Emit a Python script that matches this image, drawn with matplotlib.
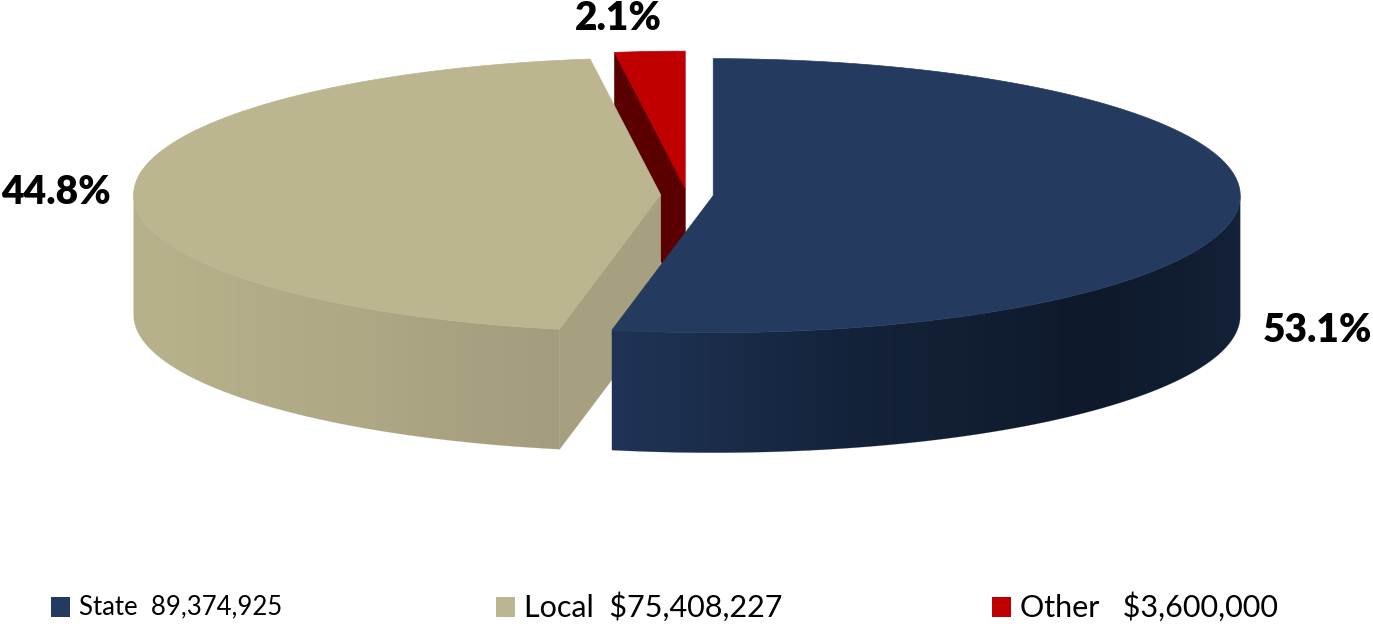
import numpy as np
import matplotlib
matplotlib.use("Agg")
import matplotlib.pyplot as plt
from matplotlib.patches import Polygon, Rectangle

# funding sources
categories = ["State", "Local", "Other"]
amounts = [89374925, 75408227, 3600000]
legend_text = ["State  89,374,925", "Local  $75,408,227", "Other   $3,600,000"]

top_colors = ["#243B5F", "#BBB68F", "#C00000"]
wall_dark = ["#0E192B", "#A39C7E", "#5A0000"]
wall_light = ["#1F3456", "#B7B28B", "#6A0000"]
cut_colors = ["#1A2C48", "#A7A080", "#5A0000"]

W, H = 1373, 624
cx, cy = 687, 195      # pie centre in pixels
rx, ry = 527, 137      # ellipse radii of the top face
depth = 120
explode = 0.05

fig = plt.figure(figsize=(W / 100, H / 100), dpi=100)
ax = fig.add_axes([0, 0, 1, 1])
ax.set_xlim(0, W)
ax.set_ylim(H, 0)
ax.axis("off")


def pt(c, th, z=0.0):
    t = np.radians(th)
    return (c[0] + rx * np.sin(t), c[1] - ry * np.cos(t) + z)


def mix(c1, c2, f):
    a = np.array(matplotlib.colors.to_rgb(c1))
    b = np.array(matplotlib.colors.to_rgb(c2))
    return a + (b - a) * np.asarray(f)[..., None]


total = sum(amounts)
fracs = [v / total for v in amounts]
starts = np.concatenate([[0], np.cumsum(fracs)[:-1]]) * 360
ends = np.cumsum(fracs) * 360

centres = []
for s, e in zip(starts, ends):
    m = np.radians((s + e) / 2)
    centres.append((cx + rx * explode * np.sin(m), cy - ry * explode * np.cos(m)))

# shading along the outer wall, keyed by angle
shade = {
    0: ([90, 135, 165, 191], [0.4, 0.0, 0.35, 1.0]),
    1: ([191, 215, 245, 270], [0.0, 0.55, 0.95, 1.0]),
}

# back slice first so the front ones cover it
for i in [2, 1, 0]:
    c = centres[i]
    s, e = starts[i], ends[i]

    # outer wall, only the front half can be seen
    ws, we = max(s, 90), min(e, 270)
    if we > ws:
        th = np.linspace(ws, we, 300)
        outline = [pt(c, a) for a in th] + [pt(c, a, depth) for a in th[::-1]]
        wall = Polygon(outline, closed=True, facecolor="none", edgecolor="none")
        ax.add_patch(wall)
        xs = np.array([pt(c, a)[0] for a in th])
        order = np.argsort(xs)
        f = np.interp(th, *shade[i])
        cols_x = np.arange(int(xs.min()) - 1, int(xs.max()) + 2)
        fx = np.interp(cols_x, xs[order], f[order])
        img = mix(wall_dark[i], wall_light[i], fx)[None, :, :]
        ys = [p[1] for p in outline]
        im = ax.imshow(img, extent=(cols_x[0], cols_x[-1] + 1, max(ys) + 1, min(ys) - 1),
                       aspect="auto", interpolation="bilinear", zorder=1)
        im.set_clip_path(wall)
        ax.add_patch(Polygon(outline, closed=True, facecolor="none",
                             edgecolor=wall_dark[i], lw=0.4, alpha=0.3, zorder=1))

    # cut faces that face the viewer
    for ang, side in [(s, -1), (e, 1)]:
        tn = np.radians(ang)
        ny = side * -np.sin(tn)
        if ny < -1e-6:
            p = pt(c, ang)
            face = [c, p, (p[0], p[1] + depth), (c[0], c[1] + depth)]
            ax.add_patch(Polygon(face, closed=True, facecolor=cut_colors[i],
                                 edgecolor=cut_colors[i], lw=0.5, zorder=1))

    # top face
    th = np.linspace(s, e, 200)
    top = [c] + [pt(c, a) for a in th]
    ax.add_patch(Polygon(top, closed=True, facecolor=top_colors[i],
                         edgecolor=top_colors[i], lw=0.5, zorder=1))

# percentage labels
label_pos = [(1318, 330), (56, 192), (618, 19)]
for (x, y), f in zip(label_pos, fracs):
    ax.text(x, y, f"{f * 100:.1f}%", ha="center", va="center", fontsize=28,
            fontweight="heavy", family="Lato", color="black", zorder=3)

# legend row
leg_x = [51, 496, 992]
leg_size = [18.5, 22, 22]
for x, txt, col, fs in zip(leg_x, legend_text, top_colors, leg_size):
    ax.add_patch(Rectangle((x, 597), 19, 20, facecolor=col, edgecolor="none"))
    ax.text(x + 28, 607, txt, ha="left", va="center", fontsize=fs,
            family="Lato", color="black")

fig.savefig("out.png", dpi=100)
